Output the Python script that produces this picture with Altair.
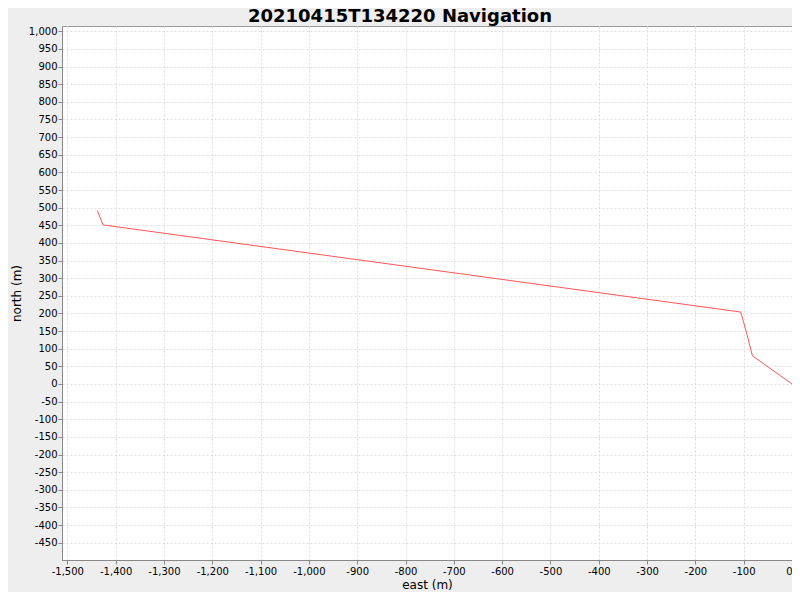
import altair as alt
import pandas as pd

east = [0, -82, -94, -106, -1426, -1438]
north = [0, 80, 145, 204, 451, 492]
order = [0, 1, 2, 3, 4, 5]

df = pd.DataFrame({"east": east, "north": north, "order": order})

label_expr = "replace(format(datum.value, ',d'), '\u2212', '-')"

x_ticks = list(range(-1500, 1, 100))
y_ticks = list(range(-450, 1001, 50))

chart = (
    alt.Chart(df)
    .mark_line(color="#FF5555", strokeWidth=1, clip=True)
    .encode(
        x=alt.X(
            "east:Q",
            scale=alt.Scale(domain=[-1511, 0], nice=False, zero=False),
            axis=alt.Axis(
                title="east (m)",
                values=x_ticks,
                labelExpr=label_expr,
                labelFlush=1,
            ),
        ),
        y=alt.Y(
            "north:Q",
            scale=alt.Scale(domain=[-499, 1015], nice=False, zero=False),
            axis=alt.Axis(
                title="north (m)",
                values=y_ticks,
                labelExpr=label_expr,
            ),
        ),
        order="order:Q",
    )
    .properties(
        width=730,
        height=534,
        title=alt.TitleParams(
            "20210415T134220 Navigation",
            font="DejaVu Sans",
            fontSize=18,
            fontWeight="bold",
            color="#000000",
            anchor="middle",
            dx=-27,
            offset=0,
        ),
        autosize=alt.AutoSizeParams(type="none"),
        padding={"left": 54, "top": 18, "right": 0, "bottom": 32},
        background="#EEEEEE",
    )
    .configure_view(fill="white", stroke="#999999", strokeWidth=1)
    .configure_axis(
        grid=True,
        gridColor="#DDDDDD",
        gridDash=[2, 2],
        gridWidth=1,
        domainColor="#888888",
        domainWidth=1,
        tickColor="#888888",
        tickSize=4,
        labelFont="DejaVu Sans",
        labelFontSize=10,
        labelColor="#000000",
        titleFont="DejaVu Sans",
        titleFontSize=12,
        titleFontWeight="normal",
        titleColor="#000000",
        labelOverlap=False,
    )
    .configure_axisX(labelPadding=2, titlePadding=3)
    .configure_axisY(labelPadding=1, titlePadding=5)
)

chart.save("out.html", embed_options={"renderer": "svg", "actions": False})
